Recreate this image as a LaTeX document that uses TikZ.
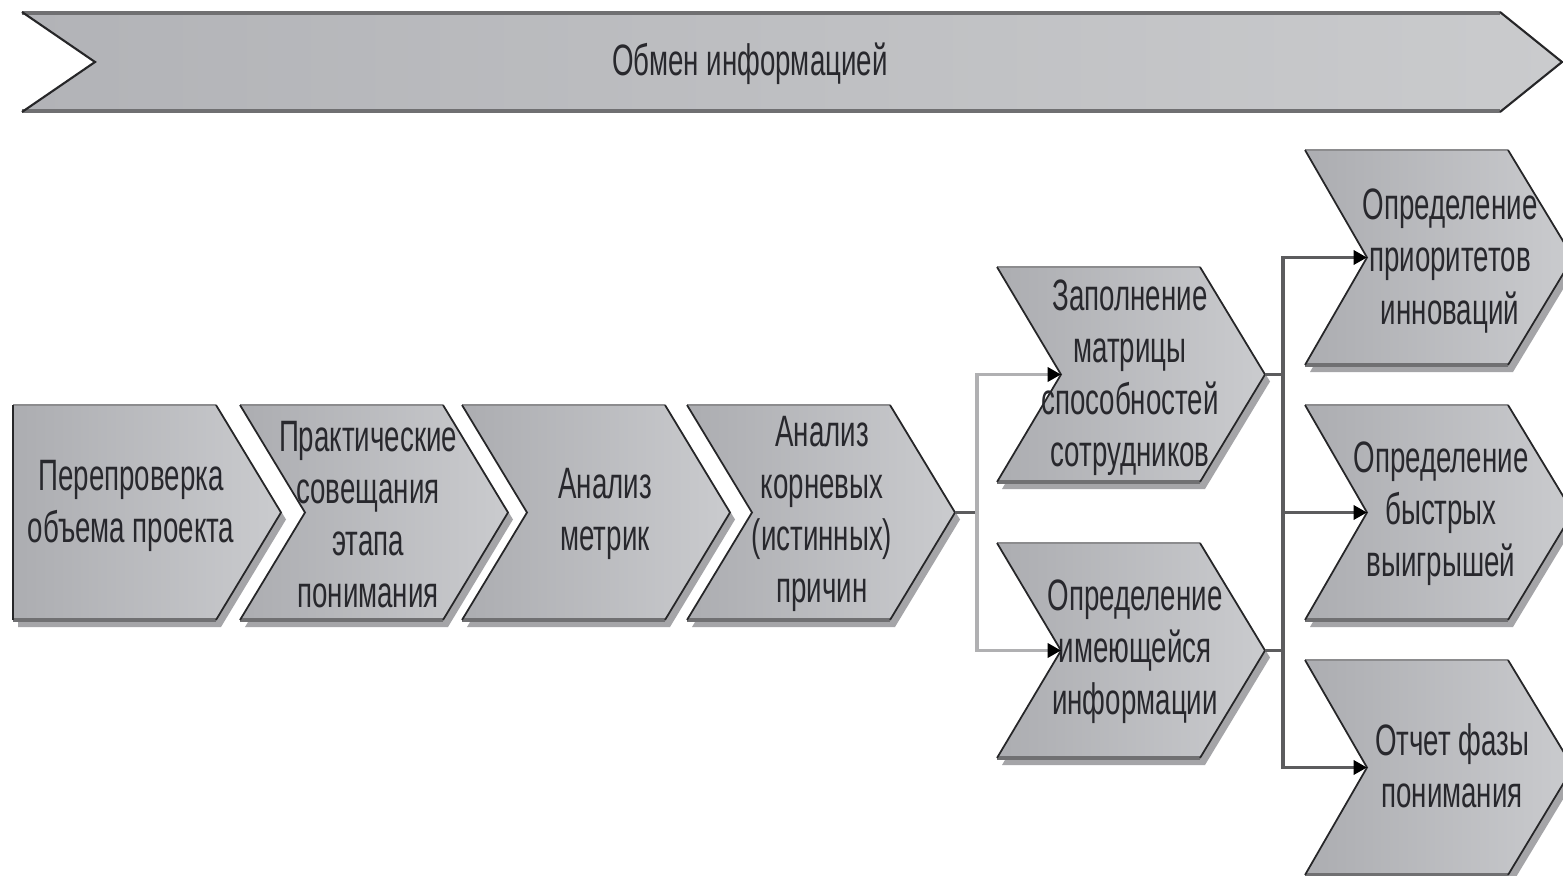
\documentclass[tikz,border=0pt]{standalone}
\usepackage{fontspec}
\setmainfont{Liberation Sans}[FakeStretch=0.63]
\usetikzlibrary{arrows.meta}

\definecolor{fillL}{RGB}{172,173,177}
\definecolor{fillR}{RGB}{202,203,206}
\definecolor{edgeTop}{RGB}{140,140,142}
\definecolor{edgeBot}{RGB}{112,112,114}
\definecolor{edgeSlant}{RGB}{38,38,40}
\definecolor{shadowgray}{RGB}{165,165,168}
\definecolor{linkdark}{RGB}{92,92,94}
\definecolor{linklight}{RGB}{176,176,178}
\definecolor{labeltext}{RGB}{40,40,45}
\definecolor{bannerL}{RGB}{178,179,183}
\definecolor{bannerR}{RGB}{202,203,205}

\tikzset{
  labeltxt/.style={font=\fontsize{12.5}{14.8}\selectfont, text=labeltext,
                   align=center, inner sep=0pt},
  stub/.style={draw=linkdark, line width=1.1pt},
  darkbus/.style={draw=linkdark, line width=0.9pt},
  lightbus/.style={draw=linklight, line width=1.1pt},
  tip/.style={-{Triangle[length=3.8pt,width=4pt,color=black,fill=black]}},
  % chevron: top-left corner at the pic origin, #1 = depth of the left notch
  pics/chevron/.style={code={
    \begin{scope}[shift={(5,7)}]
      \fill[shadowgray] (0,0) -- (203,0) -- (268,107.5) -- (203,215)
                        -- (0,215) -- (#1,107.5) -- cycle;
    \end{scope}
    \path[left color=fillL, right color=fillR]
      (0,0) -- (203,0) -- (268,107.5) -- (203,215) -- (0,215) -- (#1,107.5) -- cycle;
    \draw[edgeTop, line width=0.6pt] (0,0) -- (203,0);
    \draw[edgeBot, line width=1pt] (0,215) -- (203,215);
    \draw[edgeSlant, line width=0.5pt] (0,0) -- (#1,107.5) -- (0,215);
    \draw[edgeSlant, line width=0.5pt] (203,0) -- (268,107.5) -- (203,215);
    \coordinate (-tip) at (268,107.5);
    \coordinate (-notch) at (#1,107.5);
  }}
}

\begin{document}
\begin{tikzpicture}[x=0.01cm, y=-0.01cm]
  \useasboundingbox (0,0) rectangle (1563,876);
  \clip (0,0) rectangle (1563,876);
  \fill[white] (0,0) rectangle (1563,876);

  % information exchange banner
  \path[left color=bannerL, right color=bannerR]
    (22,12) -- (1500,12) -- (1562,62) -- (1500,112) -- (22,112) -- (95,62) -- cycle;
  \draw[edgeBot, line width=1.1pt] (22,13) -- (1500,13);
  \draw[edgeBot, line width=1.1pt] (22,111) -- (1500,111);
  \draw[edgeSlant, line width=0.6pt] (22,12) -- (95,62) -- (22,112);
  \draw[edgeSlant, line width=0.6pt] (1500,12) -- (1562,62) -- (1500,112);
  \node[labeltxt] (banner) at (750,64) {Обмен информацией};

  % main process row
  \pic (c1) at (13,405)  {chevron=0};
  \pic (c2) at (240,405) {chevron=65};
  \pic (c3) at (462,405) {chevron=65};
  \pic (c4) at (687,405) {chevron=65};

  % parallel steps
  \pic (u1) at (997,267) {chevron=64};
  \pic (u2) at (997,543) {chevron=64};

  % results
  \pic (r1) at (1305,150) {chevron=62};
  \pic (r2) at (1305,405) {chevron=62};
  \pic (r3) at (1305,660) {chevron=62};

  % labels
  \node[labeltxt] (t1) at (131,506) {Перепроверка\\объема проекта};
  \node[labeltxt] (t2) at (368,515) {Практические\\совещания\\этапа\\понимания};
  \node[labeltxt] (t3) at (605,514) {Анализ\\метрик};
  \node[labeltxt] (t4) at (822,514) {Анализ\\корневых\\(истинных)\\причин};
  \node[labeltxt] (t5) at (1130,378) {Заполнение\\матрицы\\способностей\\сотрудников};
  \node[labeltxt] (t6) at (1135,652) {Определение\\имеющейся\\информации};
  \node[labeltxt] (t7) at (1450,261) {Определение\\приоритетов\\инноваций};
  \node[labeltxt] (t8) at (1441,514) {Определение\\быстрых\\выигрышей};
  \node[labeltxt] (t9) at (1452,766) {Отчет фазы\\понимания};

  % connectors: split after root cause analysis
  \draw[stub] (c4-tip) -- ++(22,0) coordinate (jL);
  \draw[lightbus, tip] (jL) |- (u1-notch);
  \draw[lightbus, tip] (jL) |- (u2-notch);

  % connectors: merge into the results
  \draw[stub] (u1-tip) -- ++(18,0) coordinate (jR1);
  \draw[stub] (u2-tip) -- ++(18,0) coordinate (jR2);
  \draw[darkbus] (jR1) -- (jR2);
  \draw[darkbus, tip] (jR1) |- (r1-notch);
  \draw[darkbus, tip] (jR1) |- (r2-notch);
  \draw[darkbus, tip] (jR2) |- (r3-notch);
\end{tikzpicture}
\end{document}
